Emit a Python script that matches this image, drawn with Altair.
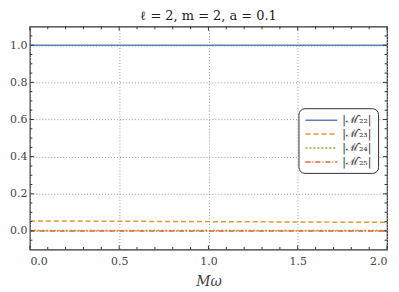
import altair as alt
import pandas as pd

# ---- data ----
x_vals = [0.0, 0.5, 1.0, 1.5, 2.0]
m22 = [1.0, 1.0, 1.0, 1.0, 1.0]
m23 = [0.054, 0.052, 0.050, 0.048, 0.046]
m24 = [0.002, 0.002, 0.002, 0.002, 0.002]
m25 = [0.0, 0.0, 0.0, 0.0, 0.0]
series_names = ["|ℳ̂₂₂|", "|ℳ̂₂₃|", "|ℳ̂₂₄|", "|ℳ̂₂₅|"]
series_colors = ["#5E81B5", "#E19C24", "#8FB032", "#EB6235"]
series_dashes = [[1, 0], [5, 3], [2, 2], [5, 2, 1, 2]]

x_major = [0.0, 0.5, 1.0, 1.5, 2.0]
x_minor = [0.1, 0.2, 0.3, 0.4, 0.6, 0.7, 0.8, 0.9, 1.1, 1.2, 1.3, 1.4, 1.6, 1.7, 1.8, 1.9]
y_major = [0.0, 0.2, 0.4, 0.6, 0.8, 1.0]
y_minor = [-0.05, 0.05, 0.1, 0.15, 0.25, 0.3, 0.35, 0.45, 0.5, 0.55, 0.65, 0.7, 0.75,
           0.85, 0.9, 0.95, 1.05]

W, H = 359, 224
FONT = "DejaVu Serif"

rows = []
for name, vals in zip(series_names, [m22, m23, m24, m25]):
    for xv, yv in zip(x_vals, vals):
        rows.append({"x": xv, "y": yv, "s": name})
df = pd.DataFrame(rows)

xs = alt.Scale(domain=[0, 2], nice=False, zero=False)
ys = alt.Scale(domain=[-0.1, 1.1], nice=False, zero=False)

xa = alt.Axis(values=x_major, format=".1f", ticks=False, domain=False,
              grid=True, gridDash=[1, 2], gridColor="#999",
              labelFont=FONT, labelFontSize=11, labelColor="#444",
              labelPadding=6, titleFont=FONT, titleFontSize=14,
              titleFontWeight="normal", titleFontStyle="italic",
              titleColor="#444", titlePadding=8)
ya = alt.Axis(values=y_major, format=".1f", ticks=False, domain=False,
              grid=True, gridDash=[1, 2], gridColor="#999",
              labelFont=FONT, labelFontSize=11, labelColor="#444",
              labelPadding=3)

lines = alt.Chart(df).mark_line(strokeWidth=1.5).encode(
    x=alt.X("x:Q", scale=xs, title="Mω", axis=xa),
    y=alt.Y("y:Q", scale=ys, title=None, axis=ya),
    color=alt.Color("s:N", scale=alt.Scale(domain=series_names, range=series_colors),
                    title=None,
                    legend=alt.Legend(orient="none", legendX=270, legendY=82,
                                      strokeColor="#333", cornerRadius=6, padding=6,
                                      fillColor="white",
                                      symbolType="M-1,0L5.4,0",
                                      symbolSize=100, symbolStrokeWidth=1.5,
                                      labelFont=FONT, labelFontSize=11,
                                      labelColor="#333", rowPadding=3,
                                      labelOffset=26)),
    strokeDash=alt.StrokeDash("s:N", scale=alt.Scale(domain=series_names,
                                                     range=series_dashes),
                              legend=None),
)

def yticks(vals, length):
    d = pd.DataFrame({"v": vals})
    left = alt.Chart(d).mark_rule(color="#333", strokeWidth=1).encode(
        y=alt.Y("v:Q", scale=ys, title=None, axis=ya), x=alt.value(0), x2=alt.value(length))
    right = alt.Chart(d).mark_rule(color="#333", strokeWidth=1).encode(
        y=alt.Y("v:Q", scale=ys, title=None, axis=ya), x=alt.value(W - length), x2=alt.value(W))
    return [left, right]

def xticks(vals, length):
    d = pd.DataFrame({"v": vals})
    bottom = alt.Chart(d).mark_rule(color="#333", strokeWidth=1).encode(
        x=alt.X("v:Q", scale=xs, title="Mω", axis=xa), y=alt.value(H - length), y2=alt.value(H))
    top = alt.Chart(d).mark_rule(color="#333", strokeWidth=1).encode(
        x=alt.X("v:Q", scale=xs, title="Mω", axis=xa), y=alt.value(0), y2=alt.value(length))
    return [bottom, top]

tick_layers = yticks(y_major, 4) + yticks(y_minor, 2.5) + xticks(x_major, 4) + xticks(x_minor, 2.5)

chart = alt.layer(lines, *tick_layers).properties(
    width=W, height=H,
    title=alt.TitleParams("ℓ = 2, m = 2, a = 0.1", font=FONT, fontSize=13,
                          fontWeight="normal", color="#222", offset=3),
    autosize=alt.AutoSizeParams(type="none"),
    padding={"left": 22, "top": 18, "right": 4, "bottom": 42},
).configure_view(stroke="#333", strokeWidth=1.2)

chart.save("out.html", embed_options={"renderer": "svg", "actions": False})
